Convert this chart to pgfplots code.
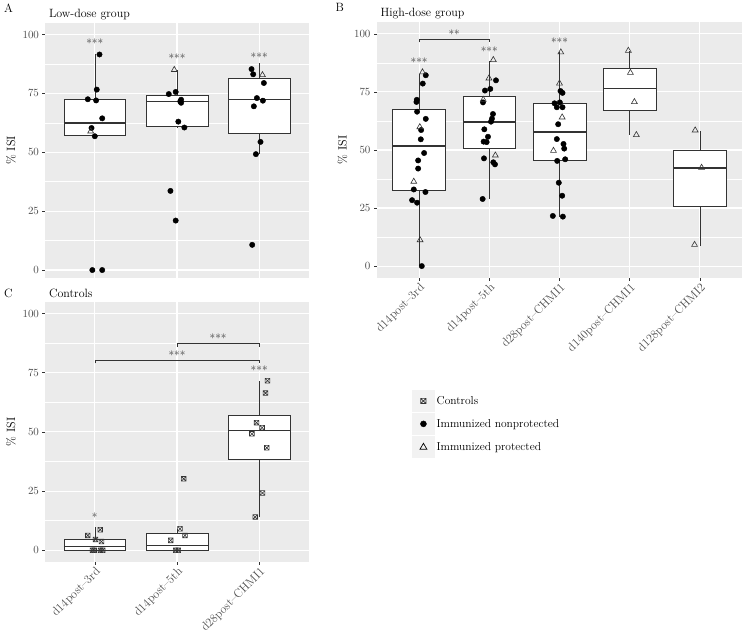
\documentclass[border=0pt]{standalone}
\usepackage{pgfplots}
\pgfplotsset{compat=1.18}
\usepgfplotslibrary{statistics}

\definecolor{panelbg}{RGB}{235,235,235}
\definecolor{keybg}{RGB}{242,242,242}
\definecolor{g20}{RGB}{51,51,51}
\definecolor{g30}{RGB}{77,77,77}

% square with a cross, for the controls
\pgfdeclareplotmark{sqx}{%
  \pgfpathrectangle{\pgfqpoint{-\pgfplotmarksize}{-\pgfplotmarksize}}{\pgfqpoint{2\pgfplotmarksize}{2\pgfplotmarksize}}%
  \pgfpathmoveto{\pgfqpoint{-\pgfplotmarksize}{-\pgfplotmarksize}}%
  \pgfpathlineto{\pgfqpoint{\pgfplotmarksize}{\pgfplotmarksize}}%
  \pgfpathmoveto{\pgfqpoint{-\pgfplotmarksize}{\pgfplotmarksize}}%
  \pgfpathlineto{\pgfqpoint{\pgfplotmarksize}{-\pgfplotmarksize}}%
  \pgfusepathqstroke}

\pgfplotsset{
  gg/.style={
    scale only axis, clip=false,
    axis background/.style={fill=panelbg},
    axis line style={draw=none},
    tick align=outside, major tick length=3pt, minor tick length=0pt,
    every tick/.style={g20, line width=0.6pt},
    xtick pos=bottom, ytick pos=left,
    xmin=0.4,
    ytick={0,25,50,75,100},
    minor ytick={12.5,37.5,62.5,87.5},
    xmajorgrids, ymajorgrids, yminorgrids,
    major grid style={white, line width=1.1pt},
    minor grid style={white, line width=0.5pt},
    yticklabel style={font=\fontsize{11}{13}\selectfont, text=g30},
    xticklabel style={font=\fontsize{12}{14}\selectfont, text=g30, rotate=45, anchor=north east, inner sep=1pt},
    ylabel={\% ISI},
    ylabel style={font=\fontsize{12}{14}\selectfont},
    boxplot/draw direction=y,
    boxplot/draw/median/.code={%
      \draw[line width=1.4pt] (boxplot box cs:\pgfplotsboxplotvalue{median},0)
        -- (boxplot box cs:\pgfplotsboxplotvalue{median},1);},
    boxplot/draw/lower whisker/.code={%
      \draw (boxplot box cs:\pgfplotsboxplotvalue{lower whisker},0.5)
        -- (boxplot box cs:\pgfplotsboxplotvalue{lower quartile},0.5);},
    boxplot/draw/upper whisker/.code={%
      \draw (boxplot box cs:\pgfplotsboxplotvalue{upper quartile},0.5)
        -- (boxplot box cs:\pgfplotsboxplotvalue{upper whisker},0.5);},
  },
  bx/.style={draw=g20, fill=white, line width=0.6pt, forget plot},
  nonprot/.style={only marks, mark=*, mark size=2.7pt, mark options={fill=black, draw=black}, forget plot},
  prot/.style={only marks, mark=triangle, mark size=3.4pt, mark options={draw=g20, line width=0.6pt, fill=none}, forget plot},
  ctrl/.style={only marks, mark=sqx, mark size=2.35pt, mark options={draw=g20, line width=0.6pt}, forget plot},
  brk/.style={g20, line width=0.6pt, forget plot},
}
\tikzset{
  stars/.style={font=\fontsize{11.5}{13}\selectfont, text=g20, yshift=-1.8pt},
  ttl/.style={anchor=base west, font=\fontsize{12}{14}\selectfont},
}

\begin{document}
\begin{tikzpicture}
\useasboundingbox (0,0) rectangle (745pt,634pt);

% ---------------- A: low dose
\begin{axis}[gg, at={(45.5pt,355.7pt)}, anchor=south west,
  width=263pt, height=255.6pt,
  ymin=-3.5, ymax=105, xmax=3.6,
  xtick={1,2,3}, xticklabels={}, xtick style={draw=none}]
\addplot[bx, boxplot prepared={draw position=1, box extend=0.75,
  lower whisker=57.2, lower quartile=57.2, median=62.4, upper quartile=72.3, upper whisker=91.5}] coordinates {};
\addplot[bx, boxplot prepared={draw position=2, box extend=0.75,
  lower whisker=60.5, lower quartile=61.0, median=71.6, upper quartile=74.2, upper whisker=85.0}] coordinates {};
\addplot[bx, boxplot prepared={draw position=3, box extend=0.75,
  lower whisker=49.2, lower quartile=58.1, median=72.5, upper quartile=81.4, upper whisker=88.0}] coordinates {};
\addplot[nonprot] coordinates {
  (1.057,91.5) (1.024,76.6) (0.915,72.5) (1.016,72.0) (1.090,64.4) (0.960,60.3)
  (1.000,56.8) (0.970,0) (1.090,0)
  (1.900,74.7) (1.984,75.6) (2.050,72.3) (2.040,71.6) (2.050,71.0) (2.016,63.0)
  (2.090,60.5) (1.920,33.6) (1.984,21.0)
  (2.907,85.3) (2.927,83.1) (3.057,79.4) (2.972,73.0) (3.045,71.9) (2.935,69.5)
  (3.016,54.4) (2.960,49.2) (2.915,10.7)};
\addplot[prot] coordinates {(0.950,58.9) (1.967,85.0) (3.040,82.8)};
\node[stars] at (axis cs:1,97.0) {***};
\node[stars] at (axis cs:2,90.7) {***};
\node[stars] at (axis cs:3,91.0) {***};
\node[ttl, yshift=5.5pt] at (axis description cs:0,1) {Low-dose group};
\node[ttl, xshift=-44.8pt, yshift=10.5pt] at (axis description cs:0,1) {A};
\end{axis}

% ---------------- B: high dose
\begin{axis}[gg, at={(377pt,356.3pt)}, anchor=south west,
  width=365pt, height=255.4pt,
  ymin=-5, ymax=105, xmax=5.6,
  xtick={1,2,3,4,5},
  xticklabels={d14post--3rd, d14post--5th, d28post--CHMI1, d140post--CHMI1, d128post--CHMI2},
  legend style={at={(0.096,-0.44)}, anchor=north west, draw=none, fill=none,
    font=\fontsize{11.5}{13}\selectfont, row sep=1.5pt, inner sep=0pt,
    cells={anchor=west}},
  legend cell align=left]
\addlegendimage{legend image code/.code={%
  \fill[keybg] (0pt,-10.5pt) rectangle (22pt,10.5pt);
  \draw[only marks, mark=sqx, mark size=2.6pt, mark options={draw=g20, line width=0.7pt}] plot coordinates {(11pt,0pt)};}}
\addlegendentry{Controls}
\addlegendimage{legend image code/.code={%
  \fill[keybg] (0pt,-10.5pt) rectangle (22pt,10.5pt);
  \draw[only marks, mark=*, mark size=3pt, mark options={fill=black, draw=black}] plot coordinates {(11pt,0pt)};}}
\addlegendentry{Immunized nonprotected}
\addlegendimage{legend image code/.code={%
  \fill[keybg] (0pt,-10.5pt) rectangle (22pt,10.5pt);
  \draw[only marks, mark=triangle, mark size=4pt, mark options={draw=black, line width=0.7pt, fill=none}] plot coordinates {(11pt,-0.5pt)};}}
\addlegendentry{Immunized protected}
\addplot[bx, boxplot prepared={draw position=1, box extend=0.75,
  lower whisker=0, lower quartile=32.6, median=51.7, upper quartile=67.5, upper whisker=82.8}] coordinates {};
\addplot[bx, boxplot prepared={draw position=2, box extend=0.75,
  lower whisker=28.9, lower quartile=50.6, median=62.1, upper quartile=73.0, upper whisker=88.4}] coordinates {};
\addplot[bx, boxplot prepared={draw position=3, box extend=0.75,
  lower whisker=21.1, lower quartile=45.7, median=57.8, upper quartile=70.0, upper whisker=92.0}] coordinates {};
\addplot[bx, boxplot prepared={draw position=4, box extend=0.75,
  lower whisker=56.5, lower quartile=67.0, median=76.6, upper quartile=85.2, upper whisker=92.8}] coordinates {};
\addplot[bx, boxplot prepared={draw position=5, box extend=0.75,
  lower whisker=8.6, lower quartile=25.6, median=42.2, upper quartile=50.0, upper whisker=58.3}] coordinates {};
\addplot[nonprot] coordinates {
  (1.095,82.2) (1.052,78.6) (0.967,71.6) (0.962,70.7) (0.971,66.5) (1.095,63.4)
  (1.029,58.6) (1.024,54.6) (1.071,48.7) (0.986,45.5) (0.986,42.0) (0.924,33.0)
  (1.090,31.9) (0.900,28.4) (0.971,27.3) (1.038,0)
  (2.095,80.0) (2.014,76.3) (1.938,75.6) (1.910,70.5) (2.052,65.5) (2.038,63.5)
  (2.024,62.2) (1.929,58.9) (1.981,55.7) (1.919,53.6) (1.962,53.4) (1.924,46.4)
  (2.057,44.7) (2.081,43.8) (1.905,28.9)
  (3.014,75.4) (3.043,74.6) (2.929,70.1) (3.005,70.5) (2.962,68.4) (3.043,68.4)
  (2.981,61.1) (2.962,54.7) (3.057,52.6) (3.067,50.6) (2.967,45.3) (3.081,46.0)
  (2.990,35.9) (3.038,30.3) (2.905,21.6) (3.048,21.3)};
\addplot[prot] coordinates {
  (1.048,83.5) (1.010,59.9) (0.924,36.4) (1.014,11.2)
  (2.057,88.8) (1.995,80.9) (1.914,71.7) (2.086,47.7)
  (3.019,92.1) (3.000,78.7) (3.038,64.1) (2.914,49.7)
  (3.981,92.8) (4.010,83.3) (4.067,70.7) (4.095,56.5)
  (4.933,58.5) (5.024,42.4) (4.924,9.2)};
\addplot[brk] coordinates {(1,96.3) (1,97.7) (2,97.7) (2,96.3)};
\node[stars] at (axis cs:1.5,100.6) {**};
\node[stars] at (axis cs:1,88.8) {***};
\node[stars] at (axis cs:2,93.4) {***};
\node[stars] at (axis cs:3,97.1) {***};
\node[ttl, yshift=5.5pt] at (axis description cs:0,1) {High-dose group};
\node[ttl, xshift=-45pt, yshift=10.5pt] at (axis description cs:0,1) {B};
\end{axis}

% ---------------- C: controls
\begin{axis}[gg, at={(45.5pt,72.3pt)}, anchor=south west,
  width=263pt, height=260pt,
  ymin=-4.8, ymax=105, xmax=3.6,
  xtick={1,2,3},
  xticklabels={d14post--3rd, d14post--5th, d28post--CHMI1}]
\addplot[bx, boxplot prepared={draw position=1, box extend=0.75,
  lower whisker=0, lower quartile=0, median=1.7, upper quartile=4.8, upper whisker=10.0}] coordinates {};
\addplot[bx, boxplot prepared={draw position=2, box extend=0.75,
  lower whisker=0, lower quartile=0, median=2.1, upper quartile=7.0, upper whisker=9.1}] coordinates {};
\addplot[bx, boxplot prepared={draw position=3, box extend=0.75,
  lower whisker=13.9, lower quartile=38.4, median=50.5, upper quartile=57.0, upper whisker=71.4}] coordinates {};
\addplot[ctrl] coordinates {
  (0.915,6.3) (1.065,8.7) (1.008,4.6) (1.081,3.7) (0.972,0) (0.992,0) (1.069,0) (1.097,0)
  (2.081,30.2) (2.036,9.1) (2.097,6.3) (1.923,4.2) (1.984,0) (2.016,0)
  (3.101,71.6) (3.077,66.4) (2.968,53.9) (3.036,51.8) (2.911,49.2) (3.093,43.3)
  (3.040,24.2) (2.951,14.1)};
\addplot[brk] coordinates {(2,85.9) (2,87.3) (3,87.3) (3,85.9)};
\addplot[brk] coordinates {(1,78.9) (1,80.3) (3,80.3) (3,78.9)};
\node[stars] at (axis cs:2.5,90.2) {***};
\node[stars] at (axis cs:2,83.1) {***};
\node[stars] at (axis cs:1,14.9) {*};
\node[stars] at (axis cs:3,76.8) {***};
\node[ttl, yshift=4pt] at (axis description cs:0,1) {Controls};
\node[ttl, xshift=-44.8pt, yshift=4pt] at (axis description cs:0,1) {C};
\end{axis}
\end{tikzpicture}
\end{document}
